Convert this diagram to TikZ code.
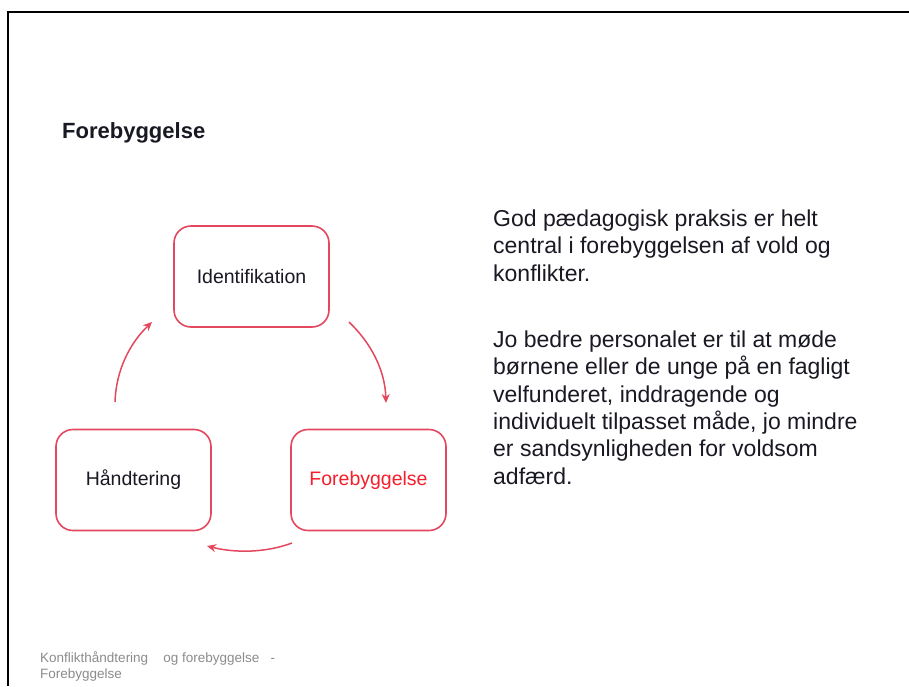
\documentclass[tikz,border=0pt]{standalone}
\usepackage{fontspec}
\setmainfont{Liberation Sans}
\usetikzlibrary{arrows.meta}
\definecolor{boxred}{RGB}{228,72,95}
\definecolor{txtred}{RGB}{245,30,45}
\definecolor{footgray}{RGB}{140,140,140}
\definecolor{txtdark}{RGB}{25,25,35}
\begin{document}
\begin{tikzpicture}[x=1pt,y=-1pt,
  stagebox/.style={draw=boxred,line width=1.6pt,rounded corners=17pt,minimum width=155pt,minimum height=101pt,inner sep=0pt,font=\fontsize{19.5}{23}\selectfont,text=txtdark},
  cyclearrow/.style={draw=boxred,line width=1.5pt,-{Stealth[length=9pt,width=8pt]}},
  bodyline/.style={anchor=base west,inner sep=0pt,font=\fontsize{23}{27.3}\selectfont,text=txtdark},
  footline/.style={anchor=base west,inner sep=0pt,font=\fontsize{13.5}{16}\selectfont,text=footgray}]
\useasboundingbox (0,0) rectangle (909,686);
\fill[white] (0,0) rectangle (909,686);
% slide frame
\draw[line width=2pt,black] (8,686) -- (8,12) -- (909,12);
% title
\node[anchor=base west,inner sep=0pt,font=\fontsize{22}{26}\selectfont\bfseries,text=txtdark] (title) at (62,138) {Forebyggelse};
% boxes
\node[stagebox] (ident) at (251.5,276.5) {Identifikation};
\node[stagebox] (hand) at (133.5,480) {Håndtering};
\node[stagebox,text=txtred] (fore) at (368.5,480) {Forebyggelse};
% arrows
\coordinate (a1s) at (115,402);
\coordinate (a1e) at (152,322);
\coordinate (a2s) at (349,322);
\coordinate (a2e) at (386,403);
\coordinate (a3s) at (292,543);
\coordinate (a3e) at (207,546);
\draw[cyclearrow] (a1s) .. controls (116,370) and (130,343) .. (a1e);
\draw[cyclearrow] (a2s) .. controls (371,343) and (385,370) .. (a2e);
\draw[cyclearrow] (a3s) .. controls (265,553) and (235,553) .. (a3e);
% body text
\node[bodyline] (p1a) at (493,226) {God pædagogisk praksis er helt};
\node[bodyline] (p1b) at (493,253.5) {central i forebyggelsen af vold og};
\node[bodyline] (p1c) at (493,281) {konflikter.};
\node[bodyline] (p2a) at (493,347) {Jo bedre personalet er til at møde};
\node[bodyline] (p2b) at (493,374.5) {børnene eller de unge på en fagligt};
\node[bodyline] (p2c) at (493,402) {velfunderet, inddragende og};
\node[bodyline] (p2d) at (493,429) {individuelt tilpasset måde, jo mindre};
\node[bodyline] (p2e) at (493,456.5) {er sandsynligheden for voldsom};
\node[bodyline] (p2f) at (493,484) {adfærd.};
% footer
\node[footline] (f1) at (40,662) {Konflikthåndtering \ \ \ og forebyggelse \ \ -};
\node[footline] (f2) at (40,678) {Forebyggelse};
\end{tikzpicture}
\end{document}
